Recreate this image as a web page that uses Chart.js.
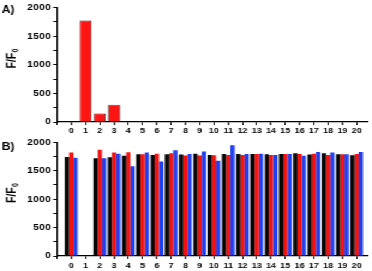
<!DOCTYPE html>
<html>
<head>
<meta charset="utf-8">
<script src="https://cdn.jsdelivr.net/npm/chart.js@4.4.1/dist/chart.umd.min.js"></script>
<style>
  html, body { margin: 0; padding: 0; background: #fff; overflow: hidden; }
  #wrap { width: 310px; height: 271px; transform: scaleX(1.2); transform-origin: 0 0; }
  canvas { display: block; }
</style>
</head>
<body>
<div id="wrap">
  <canvas id="top" width="310" height="135"></canvas>
  <canvas id="bottom" width="310" height="136"></canvas>
</div>
<script>
// ---- data ----
const categories = [0,1,2,3,4,5,6,7,8,9,10,11,12,13,14,15,16,17,18,19,20];
const topValues   = [12, 1770, 150, 300, 5, 5, 5, 5, 10, 5, 5, 5, 10, 10, 10, 10, 5, 5, 5, 5, 10];
const bottomBlack = [1745, null, 1720, 1740, 1765, 1790, 1780, 1790, 1785, 1800, 1780, 1795, 1795, 1795, 1790, 1795, 1810, 1785, 1810, 1790, 1775];
const bottomRed   = [1820, null, 1870, 1820, 1825, 1790, 1800, 1810, 1770, 1770, 1775, 1780, 1780, 1795, 1780, 1795, 1795, 1800, 1780, 1790, 1795];
const bottomBlue  = [1730, null, 1720, 1800, 1580, 1820, 1665, 1860, 1795, 1840, 1675, 1950, 1795, 1800, 1780, 1795, 1765, 1830, 1820, 1790, 1830];
const yTickLabels = [0, 500, 1000, 1500, 2000];
const panelLabels = ['A)', 'B)'];
const yTitle = ['F/F', '0'];

const FONT = "'Liberation Sans', Arial, sans-serif";

function labelPlugin(panel, labelBaseline) {
  return {
    id: 'labels' + panel,
    afterDraw(chart) {
      const ctx = chart.ctx;
      const ca = chart.chartArea;
      ctx.save();
      ctx.fillStyle = '#000';
      ctx.font = 'bold 10px ' + FONT;
      ctx.textBaseline = 'alphabetic';
      ctx.textAlign = 'left';
      ctx.fillText(panelLabels[panel], 1.5, labelBaseline);
      // y title, rotated, with subscript
      const big = 'bold 10.5px ' + FONT;
      const small = 'bold 7px ' + FONT;
      ctx.font = big;
      const w1 = ctx.measureText(yTitle[0]).width;
      ctx.font = small;
      const w2 = ctx.measureText(yTitle[1]).width;
      const total = w1 + w2;
      const cy = (ca.top + ca.bottom) / 2 - 6;
      ctx.translate(12.5, cy);
      ctx.rotate(-Math.PI / 2);
      ctx.font = big;
      ctx.fillText(yTitle[0], -total / 2, 0);
      ctx.font = small;
      ctx.fillText(yTitle[1], -total / 2 + w1 + 0.3, 2.5);
      ctx.restore();
    }
  };
}

function makeOptions(xHeight, topPad, xPad) {
  return {
    responsive: false,
    animation: false,
    events: [],
    layout: { padding: { left: 0, right: 3.3, top: topPad, bottom: 0 } },
    plugins: { legend: { display: false }, tooltip: { enabled: false } },
    scales: {
      x: {
        type: 'linear',
        min: -1,
        max: 20.8,
        offset: false,
        afterFit: (s) => { s.height = xHeight; },
        border: { display: true, color: '#000', width: 1.3 },
        grid: { drawOnChartArea: false, drawTicks: true, tickLength: 3, color: '#000', lineWidth: 1, offset: false },
        ticks: {
          stepSize: 1,
          includeBounds: false,
          autoSkip: false,
          maxRotation: 0,
          minRotation: 0,
          padding: xPad,
          color: '#000',
          font: { family: FONT, size: 7.5, weight: 'bold' },
          callback: (v) => (Number.isInteger(v) && categories.includes(v)) ? String(v) : ''
        }
      },
      y: {
        min: 0,
        max: 2000,
        afterFit: (s) => { s.width = 47.5; },
        border: { display: true, color: '#000', width: 1.3 },
        grid: { drawOnChartArea: false, drawTicks: true, tickLength: 3, color: '#000', lineWidth: 1 },
        ticks: {
          stepSize: 250,
          padding: 2,
          color: '#000',
          font: { family: FONT, size: 9, weight: 'bold' },
          callback: (v) => yTickLabels.includes(v) ? String(v) : ''
        }
      }
    }
  };
}

new Chart(document.getElementById('top'), {
  type: 'bar',
  data: {
    labels: categories,
    datasets: [{
      data: topValues,
      backgroundColor: '#ff1414',
      borderColor: '#5a0000',
      borderWidth: 0.8,
      categoryPercentage: 1,
      barPercentage: 0.82
    }]
  },
  options: makeOptions(13, 7, 1),
  plugins: [labelPlugin(0, 12.5)]
});

new Chart(document.getElementById('bottom'), {
  type: 'bar',
  data: {
    labels: categories,
    datasets: [
      { data: bottomBlack, backgroundColor: '#050505', borderWidth: 0, categoryPercentage: 0.89, barPercentage: 1 },
      { data: bottomRed,   backgroundColor: '#f21212', borderWidth: 0, categoryPercentage: 0.89, barPercentage: 1 },
      { data: bottomBlue,  backgroundColor: '#2040f0', borderWidth: 0, categoryPercentage: 0.89, barPercentage: 1 }
    ]
  },
  options: makeOptions(15, 6, 2),
  plugins: [labelPlugin(1, 15)]
});
</script>
</body>
</html>
